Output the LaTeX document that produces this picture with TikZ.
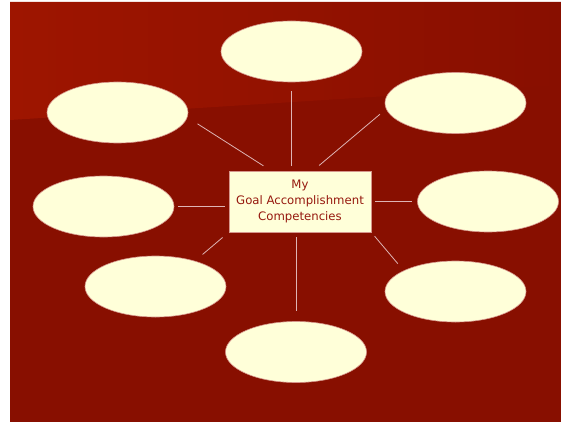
\documentclass[tikz,border=0pt]{standalone}
\usepackage{fontspec}
\setmainfont{DejaVu Sans}
\usetikzlibrary{shapes.geometric, calc}
\definecolor{slideRed}{RGB}{136,15,0}
\definecolor{slideRedLight}{RGB}{158,21,0}
\definecolor{bubbleCream}{RGB}{255,255,217}
\definecolor{bubbleEdge}{RGB}{214,150,140}
\definecolor{spokeGrey}{RGB}{222,180,180}
\definecolor{titleRed}{RGB}{150,25,15}

\begin{document}
\begin{tikzpicture}[
        x=1pt,
        y=-1pt,
        bubble/.style={ellipse, fill=bubbleCream, draw=bubbleEdge, line width=0.6pt, minimum width=141pt, minimum height=61pt, inner sep=0pt},
        centerbox/.style={rectangle, fill=bubbleCream, draw=bubbleEdge, line width=0.7pt, minimum width=142pt, minimum height=61pt, inner sep=0pt, align=center, text=titleRed, font=\fontsize{11.7}{16}\selectfont},
        spoke/.style={draw=spokeGrey, line width=0.8pt}
    ]
        \useasboundingbox (0,0) rectangle (561,422);
        \fill[slideRed] (10,2) rectangle (561,422);
        \shade[left color=slideRedLight, right color=slideRed] (10,2) -- (561,2) -- (561,85) -- (10,120) -- cycle;

        \node[centerbox] (goal) at (300,201.5) {My\\Goal Accomplishment\\Competencies};

        \foreach \name/\x/\y in {top/291.5/51.5, ul/117.5/112.5, ur/455.5/103, lft/103.5/206.5, rgt/488/201.5, ll/155.5/286.5, lr/455.5/291.5, bot/296/352} {
            \node[bubble] (\name) at (\x,\y) {};
        }

        \draw[spoke, shorten <=9pt, shorten >=5pt] (top.south) -- (top.south |- goal.north);
        \draw[spoke, shorten <=12pt, shorten >=9pt] (ul.-4) -- ([xshift=-29pt]goal.north);
        \draw[spoke, shorten <=8pt, shorten >=8pt] (ur.185) -- ([xshift=13pt]goal.north);
        \draw[spoke, shorten <=4pt, shorten >=4pt] (lft.east) -- (lft.east -| goal.west);
        \draw[spoke, line width=1.4pt, shorten <=4pt, shorten >=5pt] (goal.east) -- (rgt.west);
        \draw[spoke, shorten <=8pt, shorten >=10pt] (goal.south west) -- (ll.33);
        \draw[spoke, shorten <=5pt, shorten >=10pt] (bot.north |- goal.south) -- (bot.north);
        \draw[spoke, shorten <=5pt, shorten >=9pt] (goal.south east) -- (lr.158);
\end{tikzpicture}
\end{document}
